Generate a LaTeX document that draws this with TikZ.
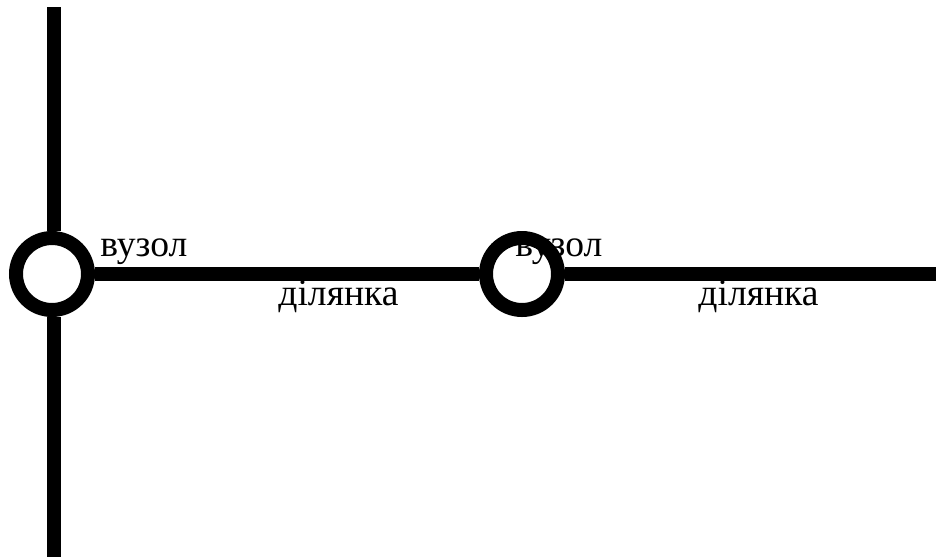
\documentclass[tikz,border=0pt]{standalone}
\usepackage{fontspec}
\setmainfont{Liberation Serif}
\begin{document}
\begin{tikzpicture}[x=0.5pt,y=-0.5pt,
  wire/.style={line width=6.6pt},
  junction/.style={circle,draw,fill=white,line width=7pt,minimum size=36pt,inner sep=0pt},
  lbl/.style={anchor=base west,inner sep=0pt,font=\fontsize{18.8pt}{22pt}\selectfont}]
\useasboundingbox (0,0) rectangle (936,559);
\coordinate (top) at (54,7);
\coordinate (bot) at (54,557);
\coordinate (rend) at (936,274);
\node[junction] (c1) at (52,274) {};
\node[junction] (c2) at (522,274) {};
\draw[wire] (top) -- (top |- c1.north);
\draw[wire] (top |- c1.south) -- (bot);
\draw[wire] (c1) -- (c2);
\draw[wire] (c2) -- (rend);
\node[lbl] (v1) at (100,256) {вузол};
\node[lbl] (v2) at (515,256) {вузол};
\node[lbl] (d1) at (278,305) {ділянка};
\node[lbl] (d2) at (698,305) {ділянка};
\end{tikzpicture}
\end{document}
